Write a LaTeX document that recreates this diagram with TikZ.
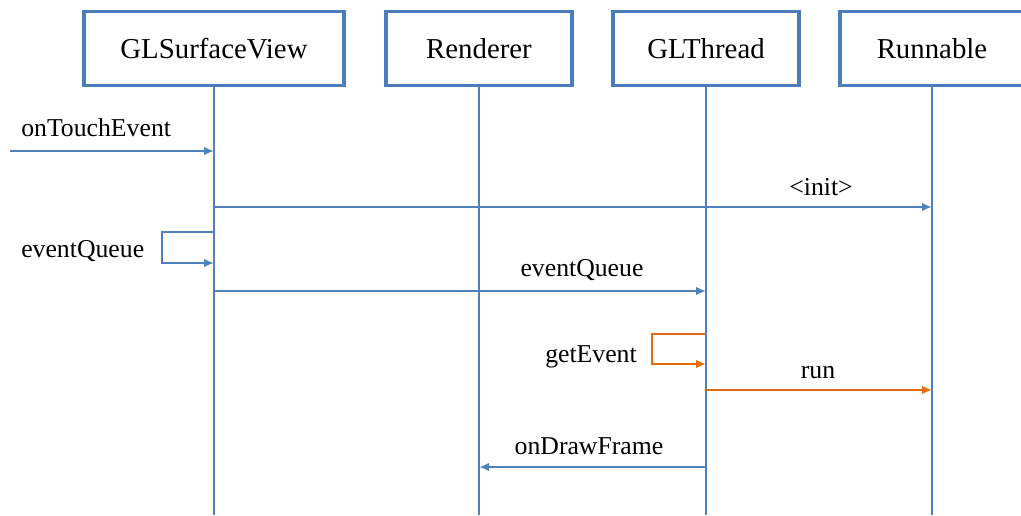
\documentclass[tikz,border=0pt]{standalone}
\usepackage{fontspec}
\setmainfont{Liberation Serif}
\usetikzlibrary{arrows.meta}
\definecolor{lineblue}{HTML}{4F81BD}
\definecolor{boxblue}{HTML}{4A7EBB}
\definecolor{callorange}{HTML}{E46C0A}
\tikzset{
  objbox/.style={draw=boxblue, line width=2.2pt, fill=white, inner sep=0pt,
    minimum width=#1, minimum height=1.87cm, font=\fontsize{20.5}{24}\selectfont},
  lifeline/.style={draw=lineblue, line width=1.5pt},
  msg/.style={draw=lineblue, line width=1.5pt, -{Latex[length=7pt,width=6pt]}},
  threadmsg/.style={msg, draw=callorange},
  msglabel/.style={anchor=base, inner sep=0pt, font=\fontsize{18.3}{21}\selectfont}
}

\begin{document}
\begin{tikzpicture}[x=0.025cm,y=-0.025cm]
        \useasboundingbox (0,0) rectangle (1021,515);
        % Objects
        \node[objbox=6.5cm] (view) at (214,48.5) {GLSurfaceView};
        \node[objbox=4.65cm] (rend) at (479,48.5) {Renderer};
        \node[objbox=4.65cm] (thread) at (706,48.5) {GLThread};
        \node[objbox=4.6cm] (run) at (932,48.5) {Runnable};
        % Lifelines
        \coordinate (bottom) at (0,515);
        \draw[lifeline] (view.south) -- (view.south |- bottom);
        \draw[lifeline] (rend.south) -- (rend.south |- bottom);
        \draw[lifeline] (thread.south) -- (thread.south |- bottom);
        \draw[lifeline] (run.south) -- (run.south |- bottom);
        % Message heights
        \coordinate (touchin) at (10,151);
        \coordinate (initrow) at (0,207);
        \coordinate (queueout) at (0,232);
        \coordinate (queuein) at (0,263);
        \coordinate (queuerow) at (0,291);
        \coordinate (getout) at (0,334);
        \coordinate (getin) at (0,364);
        \coordinate (runrow) at (0,390);
        \coordinate (drawrow) at (0,467);
        % Messages
        \draw[msg] (touchin) -- (view |- touchin);
        \draw[msg] (view |- initrow) -- (run |- initrow);
        \draw[msg] (view |- queueout) -- ++(-52,0) |- (view |- queuein);
        \draw[msg] (view |- queuerow) -- (thread |- queuerow);
        \draw[threadmsg] (thread |- getout) -- ++(-54,0) |- (thread |- getin);
        \draw[threadmsg] (thread |- runrow) -- (run |- runrow);
        \draw[msg] (thread |- drawrow) -- (rend |- drawrow);
        % Labels
        \node[msglabel, anchor=base west] (touchlbl) at (21,136) {onTouchEvent};
        \node[msglabel] (initlbl) at (821,195) {<init>};
        \node[msglabel, anchor=base west] (selfqlbl) at (21,257) {eventQueue};
        \node[msglabel] (queuelbl) at (582,276) {eventQueue};
        \node[msglabel] (getlbl) at (591,362) {getEvent};
        \node[msglabel] (runlbl) at (818,378) {run};
        \node[msglabel] (drawlbl) at (589,454) {onDrawFrame};
    \end{tikzpicture}
\end{document}
